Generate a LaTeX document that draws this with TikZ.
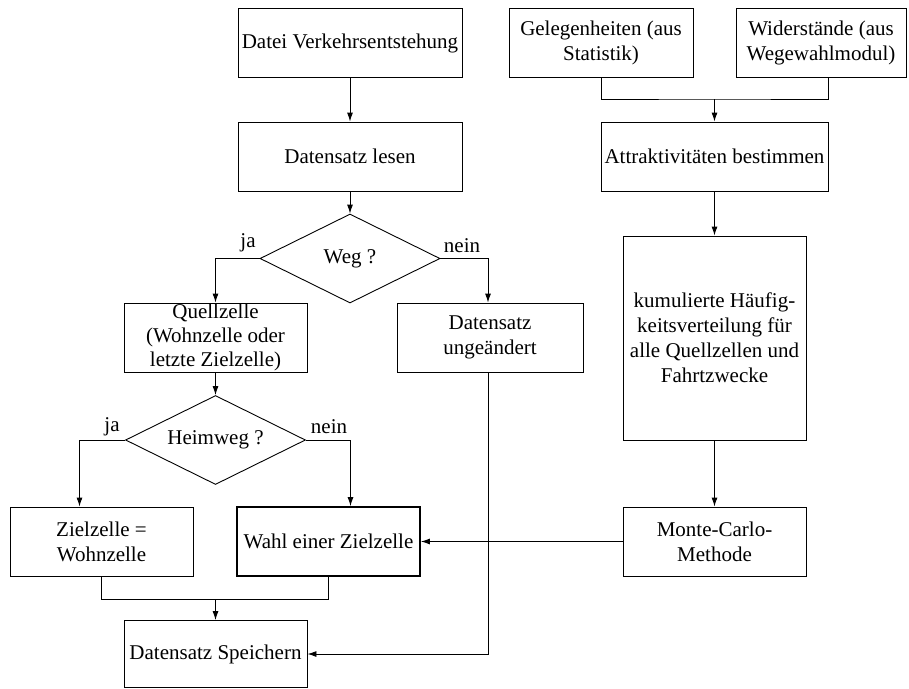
\documentclass[tikz,border=0pt]{standalone}
\usepackage{fontspec}
\setmainfont{Liberation Serif}
\usetikzlibrary{shapes.geometric,arrows.meta}

\begin{document}
\begin{tikzpicture}[x=1pt, y=-1pt, line width=0.9pt,
    font=\fontsize{21}{25}\selectfont,
    >={Latex[length=9pt,width=6pt]},
    block/.style={draw, align=center, inner sep=0pt, minimum width=#1, minimum height=69pt},
    block/.default=183pt,
    decision/.style={draw, diamond, shape aspect=2, inner sep=0pt, minimum width=180pt, minimum height=89pt}]

    \useasboundingbox (0,0) rectangle (909,688);

    % Define nodes
    \node[block=224pt]                      (datei)  at (350,43)      {Datei Verkehrsentstehung};
    \node[block=224pt]                      (lesen)  at (350,156.5)   {Datensatz lesen};
    \node[decision]                         (weg)    at (350,258.5)   {Weg ?};
    \node[block, font=\fontsize{21}{24}\selectfont]
                                            (quell)  at (215.5,337.5) {Quellzelle\\(Wohnzelle oder\\letzte Zielzelle)};
    \node[block=186pt]                      (unge)   at (490,337.5)   {Datensatz\\ungeändert};
    \node[decision]                         (heim)   at (215.5,440)   {Heimweg ?};
    \node[block]                            (ziel)   at (101.5,541.5) {Zielzelle =\\Wohnzelle};
    \node[block, line width=1.8pt]          (wahl)   at (328.5,541.5) {Wahl einer Zielzelle};
    \node[block, minimum height=67pt]       (speich) at (215.5,654)   {Datensatz Speichern};
    \node[block=184pt]                      (geleg)  at (601,43)      {Gelegenheiten (aus\\Statistik)};
    \node[block=170pt]                      (wider)  at (821,43)      {Widerstände (aus\\Wegewahlmodul)};
    \node[block=227pt]                      (attr)   at (714.5,156.5) {Attraktivitäten bestimmen};
    \node[block, minimum height=204pt]      (kum)    at (714.5,338)   {kumulierte Häufig-\\keitsverteilung für\\alle Quellzellen und\\Fahrtzwecke};
    \node[block]                            (monte)  at (714.5,541.5) {Monte-Carlo-\\Methode};

    % Branch labels
    \node (ja-weg)    at (248,243) {ja};
    \node (nein-weg)  at (462,246) {nein};
    \node (ja-heim)   at (112,427) {ja};
    \node (nein-heim) at (329,427) {nein};

    % Connect the nodes
    \draw[->] (datei) -- (lesen);
    \draw[->] (lesen) -- (weg);
    \draw[->] (weg.west) -| (quell.north);
    \draw[->] (weg.east) -| ([xshift=-2pt]unge.north);
    \draw[->] (quell) -- (heim);
    \draw[->] (heim.west) -| ([xshift=-22pt]ziel.north);
    \draw[->] (heim.east) -| ([xshift=22pt]wahl.north);
    \coordinate (merge) at (215.5,599);
    \draw (ziel.south) |- (merge) -| (wahl.south);
    \draw[->] (merge) -- (speich.north);
    \draw[->] ([xshift=-2pt]unge.south) |- (speich.east);
    \draw[->] (monte) -- (wahl);
    \coordinate (gather) at (714.5,99);
    \draw (geleg.south) |- (gather) -| ([xshift=7pt]wider.south);
    \draw[->] (gather) -- (attr.north);
    \draw[->] (attr) -- (kum);
    \draw[->] (kum) -- (monte);

\end{tikzpicture}
\end{document}
